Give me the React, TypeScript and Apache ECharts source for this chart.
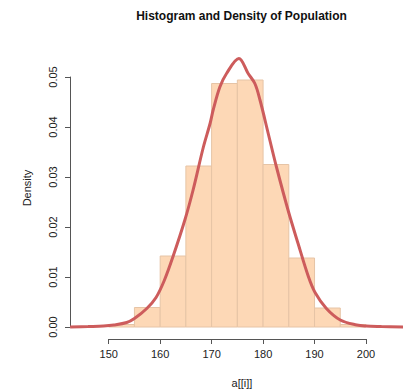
import React, { useEffect, useRef } from "react";
import * as echarts from "echarts";

// Histogram bins (start of each 5-unit bin) and densities
const binStarts = [150, 155, 160, 165, 170, 175, 180, 185, 190, 195];
const binWidth = 5;
const binDensity = [0.0005, 0.0039, 0.0142, 0.0322, 0.0487, 0.0494, 0.0325, 0.0138, 0.0038, 0.0005];

// Kernel density estimate curve
const densX = [142.5, 146, 149, 151, 153.5, 155, 157.4, 159.2, 160.8, 162.5, 164.8, 166.4, 168.4, 169.7, 170.3, 171.6, 172.9, 175.3, 177.1, 178.4, 179.4, 181, 182.6, 184.9, 186.8, 188.8, 190.1, 192.3, 195, 198.2, 200, 203, 207.2];
const densY = [0, 0.0001, 0.0002, 0.0004, 0.0009, 0.0017, 0.0037, 0.0059, 0.0093, 0.0141, 0.0214, 0.0274, 0.036, 0.0407, 0.0434, 0.048, 0.0507, 0.0537, 0.0507, 0.0487, 0.0454, 0.0387, 0.032, 0.0232, 0.0167, 0.0101, 0.0069, 0.0037, 0.0014, 0.0004, 0.0002, 0.0001, 0];

// Axis ticks
const xTicks = [150, 160, 170, 180, 190, 200];
const yTicks = [0, 0.01, 0.02, 0.03, 0.04, 0.05];

const title = "Histogram and Density of Population";
const xLabel = "a[[i]]";
const yLabel = "Density";

const FONT = "'Liberation Sans', Arial, Helvetica, sans-serif";

export default function App() {
  const ref = useRef<HTMLDivElement>(null);
  useEffect(() => {
    if (!ref.current) return;
    const chart = echarts.init(ref.current, null, { renderer: "svg" });
    const histData = binStarts.map((s, i) => [s, s + binWidth, binDensity[i]]);
    const curveData = densX.map((x, i) => [x, densY[i]]);
    const axisColor = "#555";
    chart.setOption({
      animation: false,
      backgroundColor: "#ffffff",
      textStyle: { fontFamily: FONT },
      grid: [
        { left: 70, top: 50, width: 333, height: 289, outerBoundsMode: "none" },
        { left: 108.7, top: 50, width: 257.3, height: 289, outerBoundsMode: "none" },
        { left: 70, top: 77, width: 333, height: 250, outerBoundsMode: "none" },
      ],
      xAxis: [
        { type: "value", gridIndex: 0, min: 142.48, max: 207.19, show: false },
        {
          type: "value",
          gridIndex: 1,
          min: xTicks[0],
          max: xTicks[xTicks.length - 1],
          interval: 10,
          axisLine: { show: true, lineStyle: { color: axisColor, width: 1 } },
          axisTick: { show: true, length: 5, inside: false, lineStyle: { color: axisColor } },
          axisLabel: { show: true, fontSize: 11, color: "#222", margin: 9, fontFamily: FONT },
          splitLine: { show: false },
        },
        { type: "value", gridIndex: 2, min: 0, max: 1, show: false },
      ],
      yAxis: [
        { type: "value", gridIndex: 0, min: -0.0024, max: 0.0554, show: false },
        { type: "value", gridIndex: 1, min: 0, max: 1, show: false },
        {
          type: "value",
          gridIndex: 2,
          min: yTicks[0],
          max: yTicks[yTicks.length - 1],
          interval: 0.01,
          axisLine: { show: true, lineStyle: { color: axisColor, width: 1 } },
          axisTick: { show: true, length: 5, inside: false, lineStyle: { color: axisColor } },
          axisLabel: {
            show: true,
            fontSize: 11,
            color: "#222",
            rotate: 90,
            margin: 12,
            fontFamily: FONT,
            formatter: (v: number) => v.toFixed(2),
          },
          splitLine: { show: false },
        },
      ],
      series: [
        {
          type: "custom",
          xAxisIndex: 0,
          yAxisIndex: 0,
          data: histData,
          renderItem: (params: any, api: any) => {
            const p0 = api.coord([api.value(0), 0]);
            const p1 = api.coord([api.value(1), api.value(2)]);
            return {
              type: "rect",
              shape: { x: p0[0], y: p1[1], width: p1[0] - p0[0], height: p0[1] - p1[1] },
              style: { fill: "#FDD8B6", stroke: "#E6C4A6", lineWidth: 1 },
            };
          },
          z: 1,
        },
        {
          type: "line",
          xAxisIndex: 0,
          yAxisIndex: 0,
          data: curveData,
          smooth: 0.35,
          showSymbol: false,
          symbol: "none",
          lineStyle: { color: "#CD5C5C", width: 3 },
          z: 2,
        },
      ],
      graphic: [
        {
          type: "text",
          x: 241.5,
          y: 16,
          style: {
            text: title,
            fill: "#111",
            font: `bold 12px ${FONT}`,
            textAlign: "center",
            textVerticalAlign: "middle",
          },
        },
        {
          type: "text",
          x: 242,
          y: 383,
          style: {
            text: xLabel,
            fill: "#222",
            font: `11px ${FONT}`,
            textAlign: "center",
            textVerticalAlign: "middle",
          },
        },
        {
          type: "text",
          x: 27,
          y: 188,
          rotation: Math.PI / 2,
          style: {
            text: yLabel,
            fill: "#222",
            font: `11px ${FONT}`,
            textAlign: "center",
            textVerticalAlign: "middle",
          },
        },
      ],
    });
    return () => chart.dispose();
  }, []);
  return (
    <div
      ref={ref}
      style={{ position: "absolute", left: 0, top: 0, width: 403, height: 391 }}
    />
  );
}
